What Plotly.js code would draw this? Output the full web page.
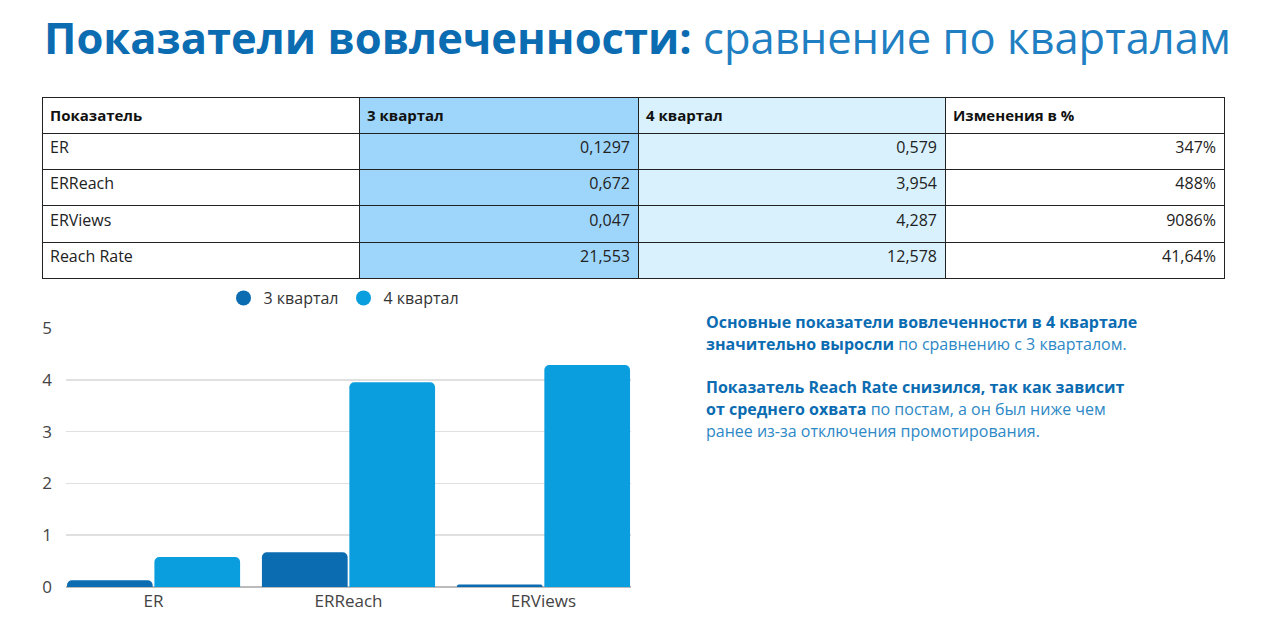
<!DOCTYPE html>
<html>
<head>
<meta charset="utf-8">
<script src="https://cdn.plot.ly/plotly-3.0.1.min.js"></script>
<style>
  html, body { margin: 0; padding: 0; background: #fff; }
  #chart { width: 1280px; height: 625px; }
</style>
</head>
<body>
<div id="chart"></div>
<script>
// данные из таблицы
var metrics = ['ER', 'ERReach', 'ERViews', 'Reach Rate'];
var q3 = [0.1297, 0.672, 0.047, 21.553];
var q4 = [0.579, 3.954, 4.287, 12.578];
var changes = ['347%', '488%', '9086%', '41,64%'];
var headers = ['Показатель', '3 квартал', '4 квартал', 'Изменения в %'];
var seriesNames = ['3 квартал', '4 квартал'];

// на графике только первые три показателя
var chartCats = metrics.slice(0, 3);

var fontFamily = '"Open Sans", "DejaVu Sans", sans-serif';
var darkBlue = '#0b6cb2';
var lightBlue = '#0a9edf';
var textBlue = '#2d88c6';

function ru(v) { return String(v).replace('.', ','); }

var W = 1280, H = 625;
function px(x) { return x / W; }
function py(y) { return 1 - y / H; }

var table = {
  type: 'table',
  domain: { x: [px(42), px(1224)], y: [py(281), py(97)] },
  columnwidth: [317, 279, 307, 279],
  header: {
    values: headers.map(function (h) { return '<b>' + h + '</b>'; }),
    align: 'left',
    height: 34,
    fill: { color: ['#ffffff', '#9ed6fb', '#d8f1fd', '#ffffff'] },
    line: { color: '#222', width: 1 },
    font: { family: fontFamily, size: 15, color: '#111' }
  },
  cells: {
    values: [metrics, q3.map(ru), q4.map(ru), changes],
    align: ['left', 'right', 'right', 'right'],
    height: 36.4,
    fill: { color: ['#ffffff', '#9ed6fb', '#d8f1fd', '#ffffff'] },
    line: { color: '#222', width: 1 },
    font: { family: fontFamily, size: 16, color: '#222' }
  }
};

var barQ3 = {
  type: 'bar', x: chartCats, y: q3.slice(0, 3), name: seriesNames[0],
  marker: { color: darkBlue, cornerradius: 5 }, showlegend: false,
  hoverinfo: 'skip'
};
var barQ4 = {
  type: 'bar', x: chartCats, y: q4.slice(0, 3), name: seriesNames[1],
  marker: { color: lightBlue, cornerradius: 5 }, showlegend: false,
  hoverinfo: 'skip'
};

// круглые значки для легенды
var legQ3 = {
  type: 'scatter', mode: 'markers', x: [null], y: [null], name: seriesNames[0],
  marker: { color: darkBlue, size: 15, symbol: 'circle' }
};
var legQ4 = {
  type: 'scatter', mode: 'markers', x: [null], y: [null], name: seriesNames[1],
  marker: { color: lightBlue, size: 15, symbol: 'circle' }
};

var bold = function (s) { return '<b><span style="color:' + darkBlue + '">' + s + '</span></b>'; };
var plain = function (s) { return '<span style="color:' + textBlue + '">' + s + '</span>'; };

var noteLines = [
  [322, bold('Основные показатели вовлеченности в 4 квартале')],
  [344, bold('значительно выросли') + plain(' по сравнению с 3 кварталом.')],
  [387, bold('Показатель Reach Rate снизился, так как зависит')],
  [409, bold('от среднего охвата') + plain(' по постам, а он был ниже чем')],
  [431, plain('ранее из-за отключения промотирования.')]
];

var annotations = [{
  xref: 'paper', yref: 'paper', x: px(42), y: py(38),
  xanchor: 'left', yanchor: 'middle', showarrow: false,
  text: '<b>Показатели вовлеченности:</b><span style="color:#1f7fc2"> сравнение по кварталам</span>',
  font: { family: fontFamily, size: 43.5, color: darkBlue }
}];
noteLines.forEach(function (l) {
  annotations.push({
    xref: 'paper', yref: 'paper', x: px(704), y: py(l[0]),
    xanchor: 'left', yanchor: 'middle', showarrow: false,
    text: l[1], font: { family: fontFamily, size: 16, color: textBlue }
  });
});

var layout = {
  width: W, height: H,
  margin: { l: 0, r: 0, t: 0, b: 0 },
  paper_bgcolor: '#fff', plot_bgcolor: '#fff',
  font: { family: fontFamily, color: '#333' },
  barmode: 'group',
  bargap: 0.103,
  bargroupgap: 0.02,
  xaxis: {
    domain: [px(66), px(631)],
    range: [-0.449, 2.449],
    type: 'category',
    showgrid: false, zeroline: false, showline: false,
    ticks: '', ticklabelstandoff: 2,
    tickfont: { size: 17, color: '#444' }
  },
  yaxis: {
    domain: [py(587), py(328)],
    range: [0, 5], dtick: 1,
    showgrid: true, gridcolor: '#e0e0e0', gridwidth: 1.5,
    zeroline: true, zerolinecolor: '#bbb', zerolinewidth: 1.5,
    ticks: '', ticklabelstandoff: 13,
    tickfont: { size: 17, color: '#444' }
  },
  legend: {
    orientation: 'h', x: px(344), xanchor: 'center',
    y: py(298), yanchor: 'middle',
    font: { size: 16, color: '#333' },
    itemwidth: 30
  },
  annotations: annotations
};

Plotly.newPlot('chart', [table, barQ3, barQ4, legQ3, legQ4], layout, { displayModeBar: false, staticPlot: true });
</script>
</body>
</html>
